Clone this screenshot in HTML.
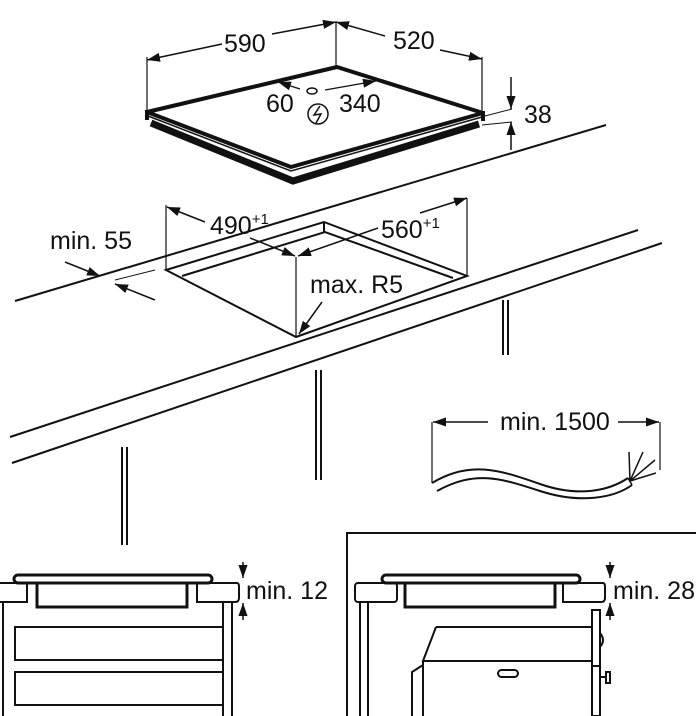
<!DOCTYPE html>
<html><head><style>body{margin:0;background:#fff}svg{display:block}text{font-family:"Liberation Sans",sans-serif;fill:#111}</style></head>
<body>
<svg width="696" height="716" viewBox="0 0 696 716" xmlns="http://www.w3.org/2000/svg">
<defs>
<marker id="a" viewBox="0 0 10 10" refX="10" refY="5" markerWidth="13" markerHeight="13" orient="auto-start-reverse" markerUnits="userSpaceOnUse"><path d="M0,1.5 L10,5 L0,8.5z" fill="#111"/></marker>
</defs>
<g stroke="#111" fill="none" stroke-width="1.5">
<!-- hob -->
<path d="M147,57V112M482,57V113M336,22V67" stroke-width="1.2"/>
<path d="M222,44L147,60" marker-end="url(#a)"/>
<path d="M272,34L336,22" marker-end="url(#a)"/>
<path d="M385,36L336,22" marker-end="url(#a)"/>
<path d="M440,50L482,59" marker-end="url(#a)"/>
<path d="M147,112L337,67L483,113L291,167Z" stroke-width="4" stroke-linejoin="round"/>
<path d="M148,116L291,171L482,117" stroke-width="1.5"/>
<path d="M151,123L293,181L479,124" stroke-width="7"/>
<path d="M147,110V120M483,111V121" stroke-width="4"/>
<path d="M300,89L278,82" marker-end="url(#a)" stroke-width="1.3"/>
<path d="M325,90L376,81" marker-end="url(#a)" stroke-width="1.3"/>
<ellipse cx="312" cy="91" rx="5" ry="3" stroke-width="1.5"/>
<circle cx="318" cy="114" r="10" stroke-width="1.5"/>
<path d="M320,106L314,115L321,114L316,123" stroke-width="1.5"/>
<path d="M511,77V109" marker-end="url(#a)"/>
<path d="M511,150V122" marker-end="url(#a)"/>
<path d="M485,116L512,109M482,125L512,122" stroke-width="1"/>
<!-- counter -->
<path d="M15,301L606,125" stroke-width="2"/>
<path d="M10,437L638,230" stroke-width="2"/>
<path d="M12,463L662,243" stroke-width="2"/>
<path d="M122,447V545M127,447V545M316,370V480M321,370V480M503,300V355M508,300V355" stroke-width="2"/>
<!-- cutout -->
<path d="M166,270L324,222L467,276L296,337Z" stroke-width="2" fill="#fff"/>
<path d="M182,276L325,232L453,278" stroke-width="2"/>
<path d="M324,222V233" stroke-width="2"/>
<path d="M166,205V270M467,198V276M296,257V337" stroke-width="1.2"/>
<path d="M205,222L167,207" marker-end="url(#a)"/>
<path d="M250,238L295,256" marker-end="url(#a)"/>
<path d="M378,228L298,256" marker-end="url(#a)"/>
<path d="M420,213L467,198" marker-end="url(#a)"/>
<path d="M322,302L299,334" marker-end="url(#a)"/>
<path d="M65,262L100,276" marker-end="url(#a)"/>
<path d="M155,300L115,284" marker-end="url(#a)"/>
<path d="M115,280L155,270" stroke-width="1"/>
<!-- cable -->
<path d="M432,422V483M660,422V470" stroke-width="1.2"/>
<path d="M488,422H433" marker-end="url(#a)"/>
<path d="M618,422H659" marker-end="url(#a)"/>
<path d="M432,483C470,460 500,470 540,484S610,490 628,478" stroke-width="2"/>
<path d="M437,491C475,470 500,478 540,491S614,498 632,485" stroke-width="2"/>
<path d="M628,478L632,485M630,481L629,452M630,481L643,452M630,481L655,460M630,481L656,473" stroke-width="1.5"/>
<!-- bottom left -->
<rect x="14" y="575" width="198" height="8" rx="4" stroke-width="3"/>
<path d="M0,583H27V602H0" stroke-width="2"/>
<path d="M213,583H237Q239,583 239,587V598Q239,602 235,602H197V583H213" stroke-width="2"/>
<path d="M37,583V607H187V583" stroke-width="3"/>
<path d="M3,602V716M223,602V716M232,602V716" stroke-width="2"/>
<rect x="15" y="627" width="208" height="33" stroke-width="2"/>
<rect x="15" y="672" width="208" height="33" stroke-width="2"/>
<path d="M243,562V578" marker-end="url(#a)" stroke-width="1.5"/>
<path d="M243,620V603" marker-end="url(#a)" stroke-width="1.5"/>
<!-- bottom right -->
<path d="M347,716V533H696" stroke-width="2"/>
<rect x="382" y="575" width="198" height="8" rx="4" stroke-width="3"/>
<rect x="355" y="583" width="42" height="19" rx="3" stroke-width="2"/>
<path d="M563,583H603Q605,583 605,587V598Q605,602 601,602H563Z" stroke-width="2"/>
<path d="M405,583V607H555V583" stroke-width="3"/>
<path d="M360,602V716M368,602V716" stroke-width="2"/>
<path d="M436,627H592M436,627L423,661H592M423,661V716M423,665L412,672V716" stroke-width="2"/>
<rect x="592" y="610" width="8" height="106" stroke-width="2"/>
<path d="M592,666H600" stroke-width="2"/>
<path d="M600,633Q606,640 600,647" stroke-width="2"/>
<path d="M600,677H606M606,672H610V683H606Z" stroke-width="2"/>
<rect x="498" y="670" width="20" height="7" rx="3.5" stroke-width="2"/>
<path d="M610,562V578" marker-end="url(#a)" stroke-width="1.5"/>
<path d="M610,620V603" marker-end="url(#a)" stroke-width="1.5"/>
</g>
<g font-size="25">
<text x="224" y="52">590</text>
<text x="393" y="49">520</text>
<text x="266" y="112">60</text>
<text x="339" y="112">340</text>
<text x="524" y="123">38</text>
<text x="210" y="234">490<tspan font-size="15" dy="-10">+1</tspan></text>
<text x="381" y="238">560<tspan font-size="15" dy="-10">+1</tspan></text>
<text x="50" y="249">min. 55</text>
<text x="310" y="293">max. R5</text>
<text x="500" y="430">min. 1500</text>
<text x="246" y="599">min. 12</text>
<text x="613" y="599">min. 28</text>
</g>
</svg>
</body></html>
